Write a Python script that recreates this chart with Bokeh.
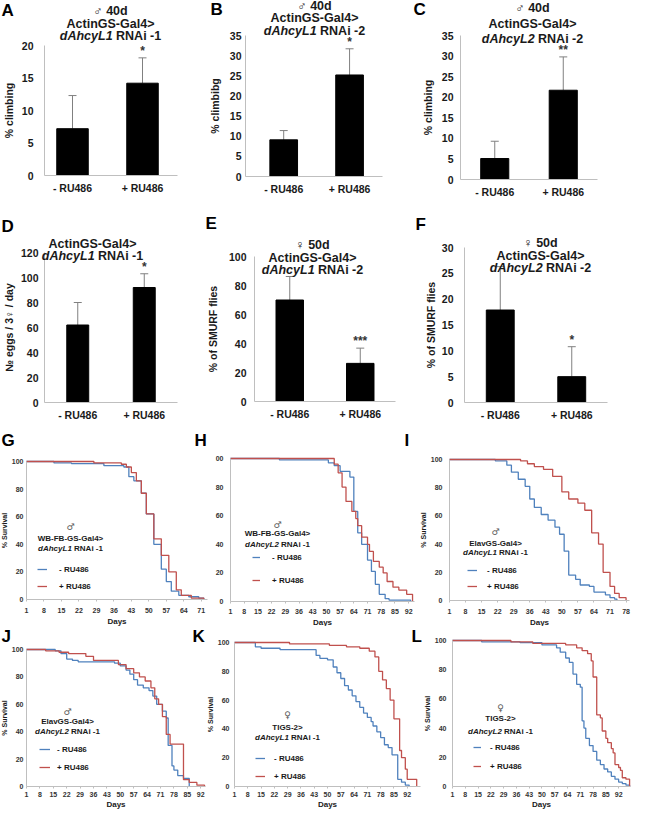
from bokeh.plotting import figure
from bokeh.models import (Range1d, Label, Whisker, TeeHead, FixedTicker,
                          Legend, LegendItem, ColumnDataSource)
from bokeh.layouts import column, row
from bokeh.embed import file_html
from bokeh.resources import INLINE
from bokeh.core.properties import value

# ---------------- data ----------------
treatments = ["- RU486", "+ RU486"]

a_mean = [7.2, 14.2]
a_sd = [5.1, 3.9]
a_sig = ["", "*"]
a_ticks = [0, 5, 10, 15, 20]

b_mean = [9.1, 25.2]
b_sd = [2.3, 6.5]
b_sig = ["", "*"]
b_ticks = [0, 5, 10, 15, 20, 25, 30, 35]

c_mean = [5.1, 21.7]
c_sd = [4.2, 8.1]
c_sig = ["", "**"]
c_ticks = [0, 5, 10, 15, 20, 25, 30, 35]

d_mean = [62, 92]
d_sd = [18, 11]
d_sig = ["", "*"]
d_ticks = [0, 20, 40, 60, 80, 100, 120]

e_mean = [70.0, 26.3]
e_sd = [16.2, 10.5]
e_sig = ["", "***"]
e_ticks = [0, 20, 40, 60, 80, 100]

f_mean = [17.9, 5.0]
f_sd = [8.4, 5.8]
f_sig = ["", "*"]
f_ticks = [0, 5, 10, 15, 20, 25, 30]

surv_ticks = [0, 20, 40, 60, 80, 100]

# G: WB-FB-GS-Gal4 > dAhcyL1 RNAi-1 (males)
g_minus_days = [1, 12, 19, 32, 40, 42, 44, 47, 49, 52, 55, 57, 59, 62, 66, 70, 72]
g_minus_surv = [100, 99, 98.5, 97, 96, 89, 86, 77, 62, 40, 22, 13, 6, 3, 2, 1, 0]
g_plus_days = [1, 28, 39, 41, 43, 45, 47, 49, 52, 55, 58, 61, 63, 67, 72]
g_plus_surv = [100, 99, 98, 96, 92, 86, 77, 62, 44, 32, 20, 7, 3, 1, 0]
g_day_ticks = [1, 8, 15, 22, 29, 36, 43, 50, 57, 64, 71]

# H: WB-FB-GS-Gal4 > dAhcyL2 RNAi-1 (males)
h_minus_days = [1, 26, 51, 54, 57, 62, 64, 66, 68, 71, 73, 75, 77, 80, 82, 93]
h_minus_surv = [100, 99, 97, 95, 91, 87, 63, 48, 40, 29, 21, 12, 5, 2, 1, 0]
h_plus_days = [1, 54, 56, 58, 60, 63, 65, 66, 68, 71, 72, 74, 77, 79, 81, 84, 87, 91, 94]
h_plus_surv = [100, 96, 90, 80, 70, 63, 58, 53, 45, 40, 35, 28, 24, 20, 14, 10, 8, 5, 0]
h_day_ticks = [1, 8, 15, 22, 29, 36, 43, 50, 57, 64, 71, 78, 85, 92]

# I: ElavGS-Gal4 > dAhcyL1 RNAi-1 (males)
i_minus_days = [1, 21, 26, 28, 31, 34, 36, 38, 41, 44, 47, 49, 51, 53, 56, 58, 62, 64, 69, 71, 73, 74]
i_minus_surv = [100, 99, 96, 91, 86, 81, 72, 66, 61, 57, 52, 47, 35, 18, 15, 11, 10, 6, 4, 2, 1, 0]
i_plus_days = [1, 32, 35, 38, 42, 46, 50, 53, 57, 60, 63, 66, 68, 71, 73, 75, 78]
i_plus_surv = [100, 99, 97, 95, 93, 88, 77, 72, 69, 64, 48, 40, 20, 10, 5, 2, 0]
i_day_ticks = [1, 8, 15, 22, 29, 36, 43, 50, 57, 64, 71, 78]

# J: ElavGS-Gal4 > dAhcyL2 RNAi-1 (males)
j_minus_days = [1, 16, 19, 22, 25, 28, 47, 50, 53, 55, 57, 59, 62, 65, 67, 69, 72, 74, 75, 77, 78, 80, 83, 86]
j_minus_surv = [100, 99, 97, 93, 92, 91, 90, 88, 85, 82, 78, 74, 72, 70, 66, 60, 55, 50, 30, 15, 12, 8, 6, 0]
j_plus_days = [1, 11, 18, 23, 32, 36, 49, 53, 57, 60, 63, 66, 68, 70, 72, 74, 76, 83, 86, 90, 94]
j_plus_surv = [100, 99, 98, 97, 95, 92, 89, 86, 83, 80, 77, 72, 64, 60, 51, 38, 31, 5, 3, 1, 0]
j_day_ticks = [1, 8, 15, 22, 29, 36, 43, 50, 57, 64, 71, 78, 85, 92]

# K: TIGS-2 > dAhcyL1 RNAi-1 (females)
k_minus_days = [1, 12, 15, 25, 44, 46, 50, 53, 55, 57, 59, 61, 63, 65, 67, 69, 71, 73, 74, 76, 78, 80, 82, 84, 87, 89, 91, 93]
k_minus_surv = [100, 97, 96, 95, 91, 89, 88, 83, 79, 75, 70, 67, 63, 59, 55, 51, 48, 45, 42, 38, 34, 29, 27, 22, 5, 3, 1, 0]
k_plus_days = [1, 30, 51, 60, 67, 72, 75, 77, 79, 81, 83, 85, 88, 89, 91, 92, 97]
k_plus_surv = [100, 99, 98, 97, 96, 94, 90, 80, 74, 68, 60, 47, 25, 20, 12, 5, 0]
k_day_ticks = [1, 8, 15, 22, 29, 36, 43, 50, 57, 64, 71, 78, 85, 92]

# L: TIGS-2 > dAhcyL2 RNAi-1 (females)
l_minus_days = [1, 17, 38, 50, 58, 60, 63, 65, 67, 69, 71, 72, 73, 74, 76, 78, 80, 82, 84, 86, 88, 90, 92, 94, 96, 98]
l_minus_surv = [100, 99, 98.5, 97, 95, 92, 88, 85, 77, 70, 68, 45, 40, 33, 28, 24, 18, 15, 12, 10, 7, 5, 3, 2, 1, 0]
l_plus_days = [1, 33, 45, 63, 69, 72, 75, 77, 78, 80, 82, 83, 85, 86, 88, 89, 90, 92, 93, 94, 96, 98]
l_plus_surv = [100, 99, 98, 97, 95, 93, 91, 86, 75, 49, 47, 38, 33, 30, 26, 23, 15, 13, 11, 6, 5, 0]
l_day_ticks = [1, 8, 15, 22, 29, 36, 43, 50, 57, 64, 71, 78, 85, 92]

# ---------------- style ----------------
FONT = "Liberation Sans"
BLUE = "#4F81BD"
RED = "#C0504D"
AXIS_GRAY = "#BFBFBF"
ERR_GRAY = "#808080"
TXT = "#1a1a1a"

# Arial-bold advance widths (per 1000 em) for centring mixed-style titles
WID = {" ": 278, "-": 333, "1": 556, "2": 556, "A": 722, "L": 611, "N": 722, "R": 722,
       "c": 556, "d": 611, "h": 611, "i": 278, "y": 556}


def tw(s, size):
    return sum(WID.get(ch, 556) for ch in s) / 1000.0 * size


def base_fig(col, rowr, frame, xr, yr):
    """Frame fills the whole canvas; the plot area is positioned through the
    data ranges, and the axes are pinned inside with fixed_location."""
    cx0, cx1 = col
    ry0, ry1 = rowr
    fx0, fx1, fy0, fy1 = frame
    sx = (xr[1] - xr[0]) / (fx1 - fx0)
    sy = (yr[1] - yr[0]) / (fy1 - fy0)
    X = Range1d(xr[0] - (fx0 - cx0) * sx, xr[1] + (cx1 - fx1) * sx)
    Y = Range1d(yr[0] - (ry1 - fy1) * sy, yr[1] + (fy0 - ry0) * sy)
    p = figure(width=cx1 - cx0, height=ry1 - ry0, x_range=X, y_range=Y,
               output_backend="svg", toolbar_location=None,
               min_border=0, min_border_left=0, min_border_right=0,
               min_border_top=0, min_border_bottom=0)
    p.outline_line_color = None
    p.xgrid.visible = False
    p.ygrid.visible = False
    p.background_fill_color = "white"
    p.border_fill_color = "white"
    p.xaxis.fixed_location = yr[0]
    p.xaxis.bounds = xr
    p.yaxis.fixed_location = xr[0]
    p.yaxis.bounds = yr

    def m(px, py):
        return xr[0] + (px - fx0) * sx, yr[0] + (fy1 - py) * sy
    return p, m


def add_text(p, m, px, py, text, size, style="bold", align="center", color=TXT, font=FONT):
    x, y = m(px, py)
    p.add_layout(Label(x=x, y=y, text=text, text_align=align, text_baseline="middle",
                       text_font=font, text_font_size=f"{size}px", text_font_style=style,
                       text_color=color))


def title_block(p, m, cx, lines, size):
    for parts, py in lines:
        if isinstance(parts, tuple):
            it, nm = parts
            w_it, w_sp, w_nm = tw(it, size), tw(" ", size), tw(nm, size)
            left = cx - (w_it + w_sp + w_nm) / 2.0
            add_text(p, m, left, py, it, size, "bold italic", "left")
            add_text(p, m, left + w_it + w_sp, py, nm, size, "bold", "left")
        else:
            add_text(p, m, cx, py, parts, size, "bold", "center")


def style_axes(p, tick_size, lab_size):
    for ax in (p.xaxis[0], p.yaxis[0]):
        ax.axis_line_color = AXIS_GRAY
        ax.major_tick_in = 0
        ax.minor_tick_out = 0
        ax.minor_tick_in = 0
        ax.major_tick_line_color = AXIS_GRAY
        ax.major_label_text_font = FONT
        ax.major_label_text_font_style = "bold"
        ax.major_label_text_font_size = tick_size
        ax.major_label_text_color = TXT
        ax.axis_label_text_font = FONT
        ax.axis_label_text_font_style = "bold"
        ax.axis_label_text_font_size = lab_size
        ax.axis_label_text_color = TXT


def bar_panel(col, rowr, frame, xa, bw, ticks, mean, sd, sig, ylabel, cx, lines, letter,
              tick_stand, lab_stand):
    ymax = ticks[-1]
    p, m = base_fig(col, rowr, frame, (xa, 2), (0, ymax))
    pos = [i + 0.5 for i in range(len(treatments))]
    upper = [a + b for a, b in zip(mean, sd)]
    src = ColumnDataSource(dict(x=pos, mean=mean, upper=upper, sig=sig))
    p.vbar(x="x", top="mean", width=bw, source=src, fill_color="black", line_color="black")
    p.add_layout(Whisker(base="x", upper="upper", lower="mean", source=src,
                         line_color=ERR_GRAY, line_width=1,
                         upper_head=TeeHead(size=8, line_color=ERR_GRAY, line_width=1),
                         lower_head=None))
    p.text(x="x", y="upper", text="sig", source=src, text_align="center",
           text_baseline="bottom", y_offset=0, text_font=value(FONT),
           text_font_size="12px", text_font_style="bold", text_color="#333333")
    p.yaxis.ticker = FixedTicker(ticks=ticks)
    p.xaxis.ticker = FixedTicker(ticks=pos)
    p.xaxis.major_label_overrides = {x: t for x, t in zip(pos, treatments)}
    p.yaxis.axis_label = ylabel
    style_axes(p, "10.5px", "10.5px")
    p.xaxis.major_tick_out = 0
    p.yaxis.major_tick_out = 0
    p.yaxis.major_label_standoff = tick_stand
    p.yaxis.axis_label_standoff = lab_stand
    p.xaxis.major_label_standoff = 6
    title_block(p, m, cx, lines, 12.5)
    lt, lx, ly = letter
    add_text(p, m, lx, ly, lt, 17, "bold", "left", "black")
    return p


def surv_panel(col, rowr, frame, xmax, day_ticks, bd, bs, rd, rs, sex, geno, gene, cx, ys,
               leg, ylabel, tick_stand, lab_stand, xstand, xlabstand, letters=(),
               overrides=None):
    p, m = base_fig(col, rowr, frame, (1, xmax), (0, 100))
    cx0 = col[0]
    ry1 = rowr[1]
    rb = p.step(x=bd, y=bs, mode="after", line_color=BLUE, line_width=1.3)
    rr = p.step(x=rd, y=rs, mode="after", line_color=RED, line_width=1.3)
    p.xaxis.ticker = FixedTicker(ticks=day_ticks)
    p.yaxis.ticker = FixedTicker(ticks=surv_ticks)
    if overrides:
        p.yaxis.major_label_overrides = overrides
    p.xaxis.axis_label = "Days"
    if ylabel:
        p.yaxis.axis_label = "% Survival"
    style_axes(p, "7px", "7px")
    p.xaxis.axis_label_text_font_size = "8px"
    p.xaxis.major_tick_out = 2
    p.yaxis.major_tick_out = 0
    p.xaxis.major_label_text_color = "#333333"
    p.yaxis.major_label_text_color = "#333333"
    p.yaxis.major_label_standoff = tick_stand
    p.yaxis.axis_label_standoff = lab_stand
    p.xaxis.major_label_standoff = xstand
    p.xaxis.axis_label_standoff = xlabstand
    add_text(p, m, cx, ys[0], sex, 9, "normal", "center", "#555555", "DejaVu Sans")
    add_text(p, m, cx, ys[1], geno, 8, "bold", "center")
    title_block(p, m, cx, [(gene, ys[2])], 8)
    gx0, gx1, y1, y2, tx = leg
    legend = Legend(items=[LegendItem(label=value("- RU486"), renderers=[rb]),
                           LegendItem(label=value("+ RU486"), renderers=[rr])],
                    location=(gx0 - cx0, ry1 - (y2 + 5)), orientation="vertical",
                    padding=0, margin=0, spacing=int(y2 - y1 - 10),
                    glyph_width=gx1 - gx0, glyph_height=10, label_height=10,
                    label_standoff=tx - gx1, label_text_font=FONT,
                    label_text_font_size="8px", label_text_font_style="bold",
                    label_text_color=TXT, background_fill_alpha=0, border_line_alpha=0)
    p.add_layout(legend)
    for lt, lx, ly in letters:
        add_text(p, m, lx, ly, lt, 17, "bold", "left", "black")
    return p


R1 = (8, 205)
R2 = (205, 432)
R3 = (432, 634)
R4 = (634, 817)

pa = bar_panel((8, 210), R1, (52, 185, 53, 183), 0.1, 0.45, a_ticks, a_mean, a_sd, a_sig,
               "% climbing",
               118, [("\u2642 40d", 18), ("ActinGS-Gal4>", 31), (("dAhcyL1", "RNAi -1"), 43.5)],
               ("A", 9, 18), 11, 4)
pb = bar_panel((210, 420), R1, (253, 390, 43, 184), -0.08, 0.42, b_ticks, b_mean, b_sd, b_sig,
               "% climbibg",
               322, [("\u2642 40d", 13), ("ActinGS-Gal4>", 25.5), (("dAhcyL1", "RNAi -2"), 38)],
               ("B", 218, 17), 4, 6)
pc = bar_panel((420, 639), R1, (468, 605, 43, 187), 0.0, 0.41, c_ticks, c_mean, c_sd, c_sig,
               "% climbing",
               540, [("\u2642 40d", 15), ("ActinGS-Gal4>", 31), (("dAhcyL2", "RNAi -2"), 46)],
               ("C", 421, 17), 7, 5)
pd_ = bar_panel((8, 210), R2, (52, 185, 260, 410), 0.0, 0.33, d_ticks, d_mean, d_sd, d_sig,
                "\u2116 eggs / 3\u2640 / day",
                100, [("ActinGS-Gal4>", 251), (("dAhcyL1", "RNAi -1"), 263)],
                ("D", 9, 234), 6, 3)
pe = bar_panel((210, 420), R2, (262, 403, 264, 409), 0.0, 0.39, e_ticks, e_mean, e_sd, e_sig,
               "% of SMURF flies",
               320, [("\u2640 50d", 252), ("ActinGS-Gal4>", 265), (("dAhcyL1", "RNAi -2"), 277)],
               ("E", 213, 231), 8, 7)
pf = bar_panel((420, 639), R2, (472, 615, 255, 410), 0.0, 0.39, f_ticks, f_mean, f_sd, f_sig,
               "% of SMURF flies",
               548, [("\u2640 50d", 250), ("ActinGS-Gal4>", 263), (("dAhcyL2", "RNAi -2"), 275)],
               ("F", 423, 232), 11, 2)

pg = surv_panel((8, 216), R3, (34, 215, 469, 607), 73.5, g_day_ticks,
                g_minus_days, g_minus_surv, g_plus_days, g_plus_surv,
                "\u2642", "WB-FB-GS-Gal4>", ("dAhcyL1", "RNAi -1"), 78, (534, 546, 556),
                (45, 55, 577, 594, 67), True, 3, 1, 6, 1,
                letters=[("G", 9, 448), ("H", 202, 448)])
ph = surv_panel((216, 425), R3, (238, 422, 466, 609), 95, h_day_ticks,
                h_minus_days, h_minus_surv, h_plus_days, h_plus_surv,
                "\u2642", "WB-FB-GS-Gal4>", ("dAhcyL2", "RNAi -1"), 285, (532, 541, 552),
                (260, 268, 565, 588, 280), False, 7, 2, 5, 1,
                letters=[("I", 412, 448)], overrides={100: "00"})
pi = surv_panel((425, 639), R3, (457, 637, 467, 608), 79.5, i_day_ticks,
                i_minus_days, i_minus_surv, i_plus_days, i_plus_surv,
                "\u2642", "ElavGS-Gal4>", ("dAhcyL1", "RNAi -1"), 503, (539, 551, 560),
                (475, 485, 578, 594, 495), True, 7, 1, 6, 1)

pj = surv_panel((8, 214), R4, (34, 213, 657, 794), 94.5, j_day_ticks,
                j_minus_days, j_minus_surv, j_plus_days, j_plus_surv,
                "\u2642", "ElavGS-Gal4>", ("dAhcyL2", "RNAi -1"), 75, (719, 729, 739),
                (47, 58, 757, 775, 65), True, 3, 1, 3, 0,
                letters=[("J", 9, 644), ("K", 200, 644)])
pk = surv_panel((214, 430), R4, (242, 428, 650, 794), 99, k_day_ticks,
                k_minus_days, k_minus_surv, k_plus_days, k_plus_surv,
                "\u2640", "TIGS-2>", ("dAhcyL1", "RNAi -1"), 295, (722, 735, 745),
                (263, 273, 766, 784, 282), True, 5, 1, 3, 0,
                letters=[("L", 419, 644)])
pl = surv_panel((430, 639), R4, (460, 638, 648, 794), 98.5, l_day_ticks,
                l_minus_days, l_minus_surv, l_plus_days, l_plus_surv,
                "\u2640", "TIGS-2>", ("dAhcyL2", "RNAi -1"), 508, (715, 726, 739),
                (481, 489, 755, 774, 498), True, 6, 1, 3, 0)

layout = column(row(pa, pb, pc), row(pd_, pe, pf), row(pg, ph, pi), row(pj, pk, pl))

open("out.html", "w").write(file_html(layout, INLINE))
